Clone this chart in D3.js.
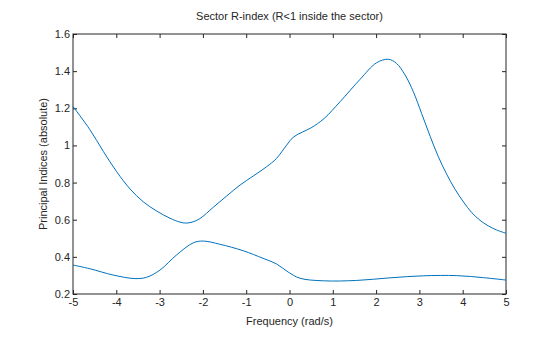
<!DOCTYPE html>
<html>
<head>
<meta charset="utf-8">
<script src="https://cdn.jsdelivr.net/npm/d3@7"></script>
<style>
  body { margin: 0; background: #fff; }
  svg text { font-family: "Liberation Sans", Arial, sans-serif; fill: #262626; }
</style>
</head>
<body>
<svg id="chart" width="560" height="337"></svg>
<script>
const xTicks = [-5, -4, -3, -2, -1, 0, 1, 2, 3, 4, 5];
const yTicks = [0.2, 0.4, 0.6, 0.8, 1, 1.2, 1.4, 1.6];

// upper principal index
const upperFreq = [-5, -4.61, -4.30, -3.99, -3.68, -3.38, -3.07, -2.76, -2.53, -2.40, -2.25, -2.07, -1.76, -1.45, -1.14, -0.84, -0.53, -0.30, -0.065, 0.09, 0.30, 0.50, 0.80, 1.17, 1.63, 2.01, 2.28, 2.47, 2.67, 2.86, 3.05, 3.25, 3.44, 3.63, 3.82, 4.02, 4.21, 4.40, 4.59, 4.78, 5];
const upperVal  = [1.21, 1.085, 0.968, 0.858, 0.765, 0.697, 0.647, 0.608, 0.587, 0.582, 0.587, 0.606, 0.667, 0.728, 0.787, 0.835, 0.885, 0.93, 1.002, 1.045, 1.072, 1.095, 1.145, 1.236, 1.356, 1.445, 1.464, 1.442, 1.379, 1.289, 1.173, 1.048, 0.938, 0.845, 0.765, 0.695, 0.638, 0.597, 0.567, 0.545, 0.527];

// lower principal index
const lowerFreq = [-5, -4.61, -4.07, -3.57, -3.30, -2.99, -2.61, -2.22, -1.99, -1.61, -1.07, -0.61, -0.30, -0.03, 0.24, 0.78, 1.55, 2.32, 3.09, 3.86, 4.48, 5];
const lowerVal  = [0.356, 0.336, 0.302, 0.283, 0.29, 0.329, 0.41, 0.476, 0.485, 0.468, 0.433, 0.392, 0.362, 0.318, 0.285, 0.271, 0.273, 0.287, 0.298, 0.299, 0.288, 0.275];

const margin = { top: 34, right: 54, bottom: 43, left: 73 },
      width = 560 - margin.left - margin.right,
      height = 337 - margin.top - margin.bottom;

const svg = d3.select("#chart");
const g = svg.append("g").attr("transform", `translate(${margin.left},${margin.top})`);

const x = d3.scaleLinear().domain([-5, 5]).range([0, width]);
const y = d3.scaleLinear().domain([0.2, 1.6]).range([height, 0]);

// plain hyphen for negatives, like the original
const fmt = d => String(+d.toFixed(1));

function styleAxis(sel, showLabels) {
  sel.select(".domain").remove();
  sel.selectAll(".tick line").attr("stroke", "#262626");
  sel.selectAll(".tick text").attr("font-size", 11).style("fill", "#262626");
  if (!showLabels) sel.selectAll(".tick text").remove();
}

g.append("g")
  .attr("transform", `translate(0,${height})`)
  .call(d3.axisBottom(x).tickValues(xTicks).tickSize(-4).tickPadding(4).tickFormat(fmt))
  .call(s => styleAxis(s, true));
g.append("g")
  .call(d3.axisTop(x).tickValues(xTicks).tickSize(-4))
  .call(s => styleAxis(s, false));
g.append("g")
  .call(d3.axisLeft(y).tickValues(yTicks).tickSize(-4).tickPadding(3).tickFormat(fmt))
  .call(s => styleAxis(s, true));
g.append("g")
  .attr("transform", `translate(${width},0)`)
  .call(d3.axisRight(y).tickValues(yTicks).tickSize(-4))
  .call(s => styleAxis(s, false));

g.append("rect")
  .attr("width", width).attr("height", height)
  .attr("fill", "none").attr("stroke", "#262626").attr("stroke-width", 1);

const line = d3.line()
  .x(d => x(d[0])).y(d => y(d[1]))
  .curve(d3.curveCatmullRom.alpha(0.5));

[[upperFreq, upperVal], [lowerFreq, lowerVal]].forEach(([fx, fy]) => {
  g.append("path")
    .datum(d3.zip(fx, fy))
    .attr("fill", "none")
    .attr("stroke", "#0072bd")
    .attr("stroke-width", 1)
    .attr("d", line);
});

svg.append("text")
  .attr("x", margin.left + width / 2).attr("y", 20)
  .attr("text-anchor", "middle").attr("font-size", 11)
  .text("Sector R-index (R<1 inside the sector)");

svg.append("text")
  .attr("x", margin.left + width / 2).attr("y", 325)
  .attr("text-anchor", "middle").attr("font-size", 11)
  .text("Frequency (rad/s)");

svg.append("text")
  .attr("transform", "rotate(-90)")
  .attr("x", -(margin.top + height / 2)).attr("y", 47)
  .attr("text-anchor", "middle").attr("font-size", 11)
  .text("Principal Indices (absolute)");
</script>
</body>
</html>
